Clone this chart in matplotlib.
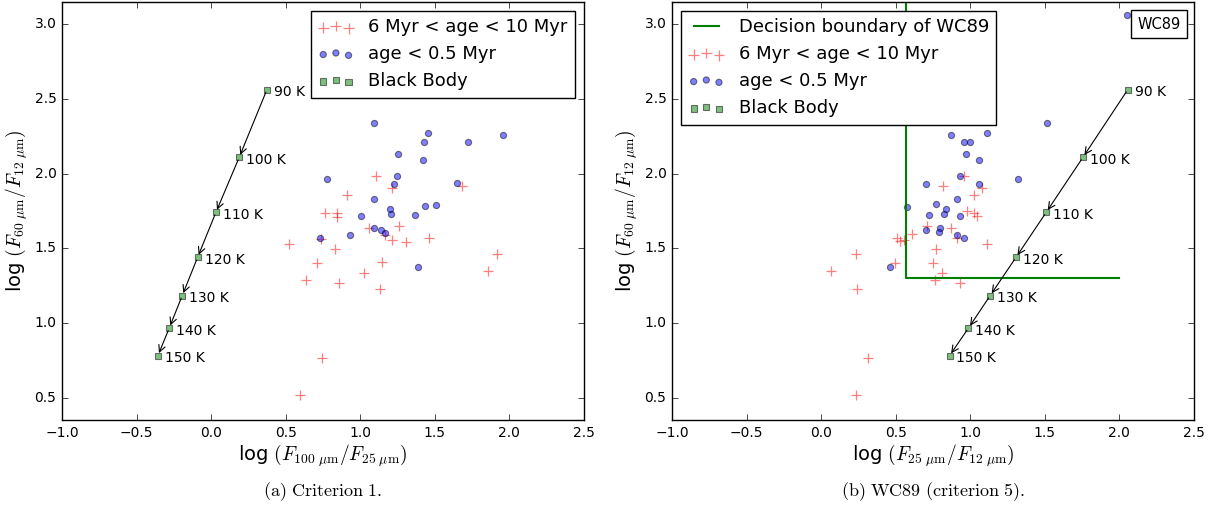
import numpy as np
import matplotlib
matplotlib.use("Agg")
import matplotlib.pyplot as plt
from matplotlib.lines import Line2D

plt.style.use('classic')
plt.rcParams['figure.facecolor'] = 'white'
plt.rcParams['savefig.facecolor'] = 'white'
plt.rcParams['mathtext.fontset'] = 'cm'
plt.rcParams['font.family'] = 'DejaVu Sans'

# cuerpo negro: temperaturas y colores
bb_temp = [90, 100, 110, 120, 130, 140, 150]
bb_y = [2.563, 2.109, 1.741, 1.439, 1.183, 0.966, 0.781]
bb_x1 = [0.374, 0.188, 0.032, -0.091, -0.194, -0.281, -0.357]
bb_x2 = [2.056, 1.755, 1.509, 1.306, 1.133, 0.988, 0.861]

# criterio 1: log(F100/F25) vs log(F60/F12)
young1_x = [1.094, 1.453, 1.430, 1.721, 1.960, 1.252, 1.419, 1.243, 1.225, 0.778, 1.647, 1.091,
            1.200, 1.207, 1.437, 1.511, 1.008, 1.366, 1.093, 1.138, 1.165, 0.928, 0.727, 1.390]
young1_y = [2.339, 2.270, 2.210, 2.214, 2.261, 2.129, 2.091, 1.987, 1.930, 1.962, 1.935, 1.833,
            1.763, 1.732, 1.781, 1.792, 1.716, 1.723, 1.634, 1.620, 1.605, 1.589, 1.571, 1.374]
old1_x = [1.104, 1.212, 1.681, 0.908, 0.763, 0.841, 0.841, 1.060, 1.259, 1.169, 0.738, 1.212, 1.462,
          1.308, 0.519, 0.830, 0.711, 1.145, 1.915, 0.637, 0.859, 1.022, 1.855, 1.131, 0.743, 0.597]
old1_y = [1.982, 1.902, 1.915, 1.857, 1.734, 1.739, 1.709, 1.634, 1.647, 1.589, 1.565, 1.558, 1.569,
          1.540, 1.531, 1.498, 1.404, 1.408, 1.459, 1.285, 1.270, 1.337, 1.348, 1.230, 0.768, 0.517]

# WC89: log(F25/F12) vs log(F60/F12)
young2_x = [1.517, 0.874, 1.113, 0.955, 0.995, 0.970, 1.058, 0.932, 0.704, 1.060, 1.323, 0.914, 0.575,
            0.773, 0.836, 0.825, 0.725, 0.934, 0.798, 0.700, 0.791, 0.912, 0.957, 0.459, 2.050]
young2_y = [2.339, 2.261, 2.270, 2.212, 2.210, 2.129, 2.091, 1.987, 1.933, 1.933, 1.962, 1.833, 1.779,
            1.794, 1.763, 1.732, 1.723, 1.716, 1.634, 1.620, 1.607, 1.589, 1.571, 1.374, 3.060]
old2_x = [0.959, 0.818, 1.080, 1.026, 0.981, 1.024, 1.044, 0.709, 0.874, 0.914, 1.109, 0.771, 0.606,
          0.510, 0.532, 0.553, 0.747, 0.812, 0.495, 0.237, 0.068, 0.765, 0.932, 0.242, 0.316, 0.235]
old2_y = [1.982, 1.915, 1.902, 1.857, 1.750, 1.739, 1.714, 1.647, 1.636, 1.571, 1.531, 1.495, 1.593,
          1.568, 1.552, 1.558, 1.401, 1.337, 1.404, 1.459, 1.346, 1.285, 1.270, 1.230, 0.768, 0.517]

# frontera de decision WC89
wc_x = [0.57, 0.57, 2.0]
wc_y = [3.5, 1.3, 1.3]

lab_old = '6 Myr < age < 10 Myr'
lab_young = 'age < 0.5 Myr'
lab_bb = 'Black Body'
ylab = r'log $(F_{60\ \mu\mathrm{m}}/F_{12\ \mu\mathrm{m}})$'


def panel(ax, xo, yo, xy, yy, bx):
    ax.scatter(xo, yo, c='r', marker='+', s=60, linewidths=0.9, alpha=0.5, label=lab_old)
    ax.scatter(xy, yy, c='b', marker='o', s=20, edgecolors='k', linewidths=0.8, alpha=0.5, label=lab_young)
    ax.scatter(bx, bb_y, c='g', marker='s', s=20, edgecolors='k', linewidths=0.8, alpha=0.5, label=lab_bb)
    for i in range(len(bb_temp)):
        ax.annotate('%d K' % bb_temp[i], (bx[i], bb_y[i]), xytext=(5, -2),
                    textcoords='offset points', ha='left', va='center', fontsize=10)
        if i < len(bb_temp) - 1:
            ax.annotate('', xy=(bx[i + 1], bb_y[i + 1]), xytext=(bx[i], bb_y[i]),
                        arrowprops=dict(arrowstyle='->', color='k', lw=0.8,
                                        shrinkA=2, shrinkB=2))
    ax.set_xlim(-1.0, 2.5)
    ax.set_ylim(0.35, 3.15)
    ax.set_xticks(np.arange(-1.0, 2.51, 0.5))
    ax.set_yticks(np.arange(0.5, 3.01, 0.5))
    ax.tick_params(labelsize=10)
    ax.set_ylabel(ylab, fontsize=14, labelpad=3)


fig = plt.figure(figsize=(12.16, 5.14), dpi=100)

ax1 = fig.add_axes([62 / 1216, 1 - 420 / 514, 522 / 1216, 418 / 514])
panel(ax1, old1_x, old1_y, young1_x, young1_y, bb_x1)
ax1.set_xlabel(r'log $(F_{100\ \mu\mathrm{m}}/F_{25\ \mu\mathrm{m}})$', fontsize=14, labelpad=2)
ax1.legend(loc='upper right', fontsize=13)

ax2 = fig.add_axes([672 / 1216, 1 - 420 / 514, 522 / 1216, 418 / 514])
ax2.plot(wc_x, wc_y, color='g', lw=1.5)
panel(ax2, old2_x, old2_y, young2_x, young2_y, bb_x2)
ax2.set_xlabel(r'log $(F_{25\ \mu\mathrm{m}}/F_{12\ \mu\mathrm{m}})$', fontsize=14, labelpad=2)
h, l = ax2.get_legend_handles_labels()
h = [Line2D([], [], color='g', lw=1.5)] + h
l = ['Decision boundary of WC89'] + l
ax2.legend(h, l, loc='upper left', fontsize=13)
ax2.text(0.974, 0.965, 'WC89', transform=ax2.transAxes, ha='right', va='top', fontsize=10.5,
         bbox=dict(facecolor='white', edgecolor='black', pad=4.5))

fig.text(323 / 1216, 1 - 492 / 514, r'$\mathrm{(a)\ Criterion\ 1.}$', ha='center', va='center', fontsize=13)
fig.text(933 / 1216, 1 - 492 / 514, r'$\mathrm{(b)\ WC89\ (criterion\ 5).}$', ha='center', va='center', fontsize=13)

fig.savefig('out.png', dpi=100)
